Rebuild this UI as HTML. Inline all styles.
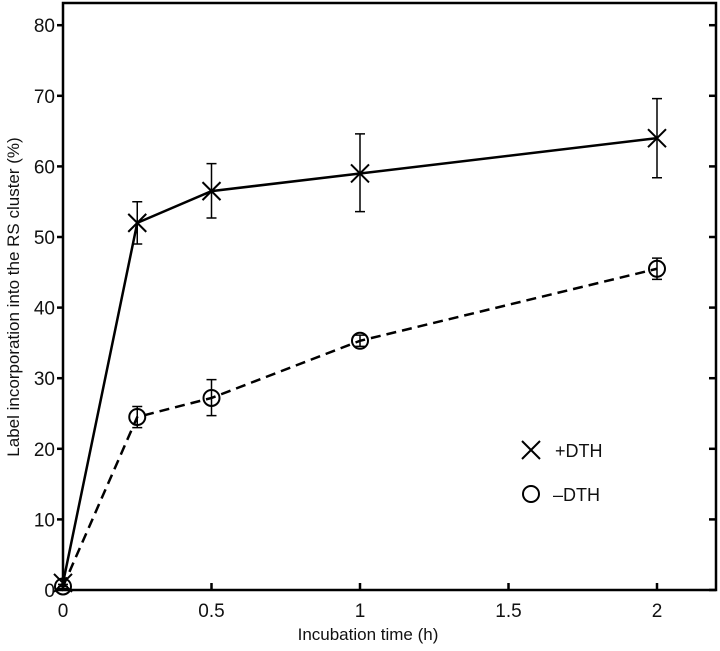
<!DOCTYPE html>
<html><head><meta charset="utf-8"><style>
body{margin:0;background:#fff}
text{font-family:"Liberation Sans",Arial,sans-serif;fill:#111}
</style></head><body>
<svg id="chart" width="720" height="646" xmlns="http://www.w3.org/2000/svg">
<rect x="63" y="3" width="653" height="587" fill="none" stroke="#000" stroke-width="2.5"/>
<g id="axes"></g>
<g id="series"></g>
<text x="368" y="640" font-size="17" text-anchor="middle">Incubation time (h)</text>
<text transform="translate(19,297) rotate(-90)" font-size="17" text-anchor="middle">Label incorporation into the RS cluster (%)</text>
<g>
<g>
<path d="M522,441 L540,459 M540,441 L522,459" stroke="#000" stroke-width="2"/>
<text x="555" y="457" font-size="18">+DTH</text></g>
<g>
<circle cx="531" cy="494" r="8" fill="none" stroke="#000" stroke-width="2"/>
<text x="553" y="501" font-size="18">–DTH</text></g>
</g>
</svg>
<script>
const xTicks=[0,0.5,1,1.5,2];
const xTickLabels=["0","0.5","1","1.5","2"];
const yTicks=[0,10,20,30,40,50,60,70,80];
const yTickLabels=["0","10","20","30","40","50","60","70","80"];
const times=[0,0.25,0.5,1,2];
const plusVals=[1,52,56.5,59,64];
const plusLo=[0.5,49,52.7,53.6,58.4];
const plusHi=[1.5,55,60.4,64.6,69.6];
const minusVals=[0.5,24.5,27.2,35.3,45.5];
const minusLo=[0.2,23,24.7,34.5,44];
const minusHi=[0.8,26,29.8,36.1,47];
const X=v=>63+v*297;
const Y=v=>590-v*7.06;
const NS="http://www.w3.org/2000/svg";
function mk(tag,attrs,parent){const e=document.createElementNS(NS,tag);for(const k in attrs)e.setAttribute(k,attrs[k]);parent.appendChild(e);return e;}
const ax=document.getElementById('axes');
xTicks.forEach((t,i)=>{
 const l=mk('line',{x1:X(t),x2:X(t),y1:590,y2:583,stroke:'#000','stroke-width':2.5},ax);
 
 
 const tx=mk('text',{x:X(t),y:617,'font-size':19,'text-anchor':'middle'},ax);tx.textContent=xTickLabels[i];
 
 
});
yTicks.forEach((t,i)=>{
 const l=mk('line',{x1:57,x2:63,y1:Y(t),y2:Y(t),stroke:'#000','stroke-width':2.5},ax);
 
 
 const r=mk('line',{x1:709,x2:716,y1:Y(t),y2:Y(t),stroke:'#000','stroke-width':2.5},ax);
 
 
 const tx=mk('text',{x:55,y:Y(t)+7,'font-size':19,'text-anchor':'end'},ax);tx.textContent=yTickLabels[i];
 
 
});
const sg=document.getElementById('series');
function series(vals,lo,hi,dash,marker,name){
 const g=mk('g',{},sg);
 
 
 const pl=mk('polyline',{points:times.map((t,i)=>X(t)+','+Y(vals[i])).join(' '),fill:'none',stroke:'#000','stroke-width':2.5,'stroke-dasharray':dash},g);
 
 
 times.forEach((t,i)=>{
  const x=X(t),y=Y(vals[i]);
  const e=mk('path',{d:`M${x},${Y(lo[i])}V${Y(hi[i])}M${x-5},${Y(lo[i])}H${x+5}M${x-5},${Y(hi[i])}H${x+5}`,stroke:'#000','stroke-width':1.5,fill:'none'},g);
  
  
  let m;
  if(marker==='x') m=mk('path',{d:`M${x-9},${y-9}L${x+9},${y+9}M${x+9},${y-9}L${x-9},${y+9}`,stroke:'#000','stroke-width':2},g);
  else m=mk('circle',{cx:x,cy:y,r:8,fill:'none',stroke:'#000','stroke-width':2},g);
  
  
 });
}
series(plusVals,plusLo,plusHi,'none','x','plus-dth-series');
series(minusVals,minusLo,minusHi,'10,6','o','minus-dth-series');
</script>
</body></html>
